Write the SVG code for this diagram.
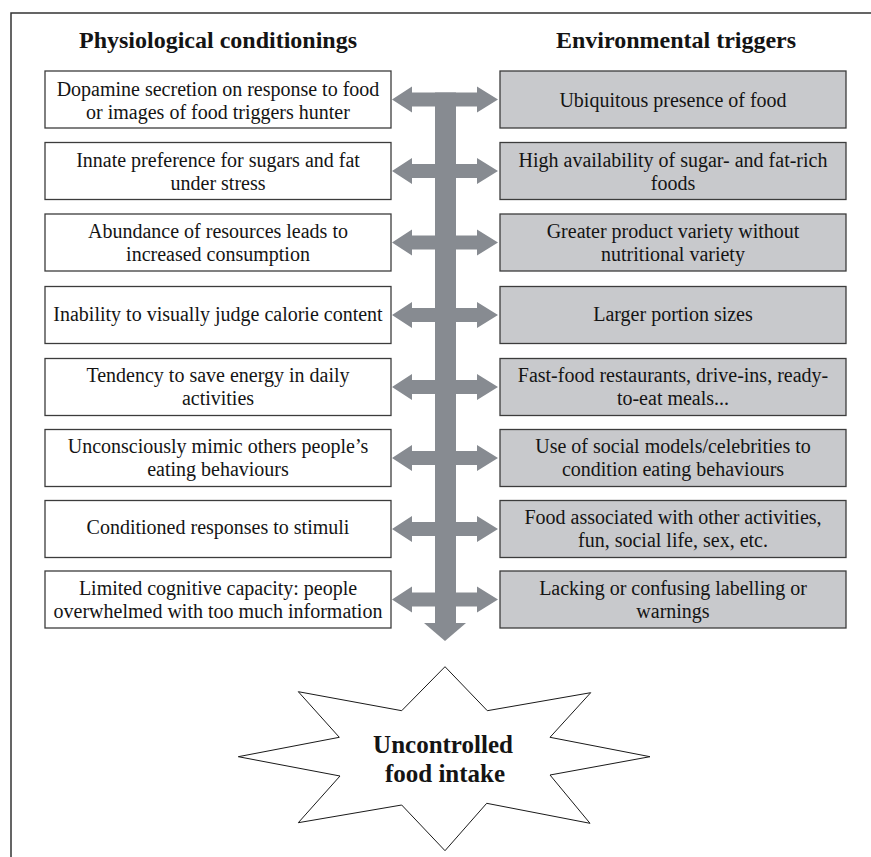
<svg xmlns="http://www.w3.org/2000/svg" width="871" height="857" viewBox="0 0 871 857">
<style>
text{font-family:"Liberation Serif","Times New Roman",serif;fill:#141414;text-anchor:middle}
.hdr{font-size:24px;font-weight:bold}
.t{font-size:20px}
.star{font-size:25px;font-weight:bold}
.bl{fill:#ffffff;stroke:#3c3c3c;stroke-width:1.3}
.br{fill:#c8c9cc;stroke:#3c3c3c;stroke-width:1.3}
.arr{fill:#878b91}
</style>
<defs>
<polygon id="dbl" points="392,0 412,-13 412,-7 477,-7 477,-13 498,0 477,13 477,7 412,7 412,13"/>
</defs>
<rect width="871" height="857" fill="#ffffff"/>
<polyline points="11,857 11,13 871,13" fill="none" stroke="#333" stroke-width="1.5"/>
<text class="hdr" x="218" y="48">Physiological conditionings</text>
<text class="hdr" x="676" y="48">Environmental triggers</text>

<g id="connectors" class="arr">
<rect x="435" y="92.5" width="21" height="531"/>
<polygon points="424,623 466,623 445,641"/>
<use href="#dbl" transform="translate(0,99.5)"/>
<use href="#dbl" transform="translate(0,171)"/>
<use href="#dbl" transform="translate(0,242.5)"/>
<use href="#dbl" transform="translate(0,315)"/>
<use href="#dbl" transform="translate(0,387)"/>
<use href="#dbl" transform="translate(0,458)"/>
<use href="#dbl" transform="translate(0,529)"/>
<use href="#dbl" transform="translate(0,599.5)"/>
</g>

<g id="p1"><rect class="bl" x="45" y="71" width="346" height="57"/><text class="t" x="218" y="96">Dopamine secretion on response to food</text><text class="t" x="218" y="118.5">or images of food triggers hunter</text></g>
<g id="p2"><rect class="bl" x="45" y="142.5" width="346" height="57"/><text class="t" x="218" y="167">Innate preference for sugars and fat</text><text class="t" x="218" y="190">under stress</text></g>
<g id="p3"><rect class="bl" x="45" y="214" width="346" height="57"/><text class="t" x="218" y="237.5">Abundance of resources leads to</text><text class="t" x="218" y="260.5">increased consumption</text></g>
<g id="p4"><rect class="bl" x="45" y="286.5" width="346" height="57"/><text class="t" x="218" y="321">Inability to visually judge calorie content</text></g>
<g id="p5"><rect class="bl" x="45" y="358.5" width="346" height="57"/><text class="t" x="218" y="382">Tendency to save energy in daily</text><text class="t" x="218" y="405">activities</text></g>
<g id="p6"><rect class="bl" x="45" y="429.5" width="346" height="57"/><text class="t" x="218" y="453">Unconsciously mimic others people’s</text><text class="t" x="218" y="476">eating behaviours</text></g>
<g id="p7"><rect class="bl" x="45" y="500.5" width="346" height="57"/><text class="t" x="218" y="534">Conditioned responses to stimuli</text></g>
<g id="p8"><rect class="bl" x="45" y="571" width="346" height="57"/><text class="t" x="218" y="594.5">Limited cognitive capacity: people</text><text class="t" x="218" y="617.5">overwhelmed with too much information</text></g>

<g id="e1"><rect class="br" x="500" y="71" width="346" height="57"/><text class="t" x="673" y="106.5">Ubiquitous presence of food</text></g>
<g id="e2"><rect class="br" x="500" y="142.5" width="346" height="57"/><text class="t" x="673" y="167">High availability of sugar- and fat-rich</text><text class="t" x="673" y="190">foods</text></g>
<g id="e3"><rect class="br" x="500" y="214" width="346" height="57"/><text class="t" x="673" y="237.5">Greater product variety without</text><text class="t" x="673" y="260.5">nutritional variety</text></g>
<g id="e4"><rect class="br" x="500" y="286.5" width="346" height="57"/><text class="t" x="673" y="321">Larger portion sizes</text></g>
<g id="e5"><rect class="br" x="500" y="358.5" width="346" height="57"/><text class="t" x="673" y="382">Fast-food restaurants, drive-ins, ready-</text><text class="t" x="673" y="405">to-eat meals...</text></g>
<g id="e6"><rect class="br" x="500" y="429.5" width="346" height="57"/><text class="t" x="673" y="453">Use of social models/celebrities to</text><text class="t" x="673" y="476">condition eating behaviours</text></g>
<g id="e7"><rect class="br" x="500" y="500.5" width="346" height="57"/><text class="t" x="673" y="524">Food associated with other activities,</text><text class="t" x="673" y="547">fun, social life, sex, etc.</text></g>
<g id="e8"><rect class="br" x="500" y="571" width="346" height="57"/><text class="t" x="673" y="594.5">Lacking or confusing labelling or</text><text class="t" x="673" y="617.5">warnings</text></g>

<g id="outcome">
<polygon points="445,666.7 487.3,710.7 590.7,692.7 550,737.3 650,756.7 550,775 590,823.3 486.7,803.3 445,850.7 401.7,805 298.3,822.7 340,776 238.3,756.7 339.3,737.3 298.3,691.7 401.7,710.7" fill="#ffffff" stroke="#1a1a1a" stroke-width="1"/>
<text class="star" x="443" y="753">Uncontrolled</text>
<text class="star" x="445" y="782">food intake</text>
</g>
</svg>
